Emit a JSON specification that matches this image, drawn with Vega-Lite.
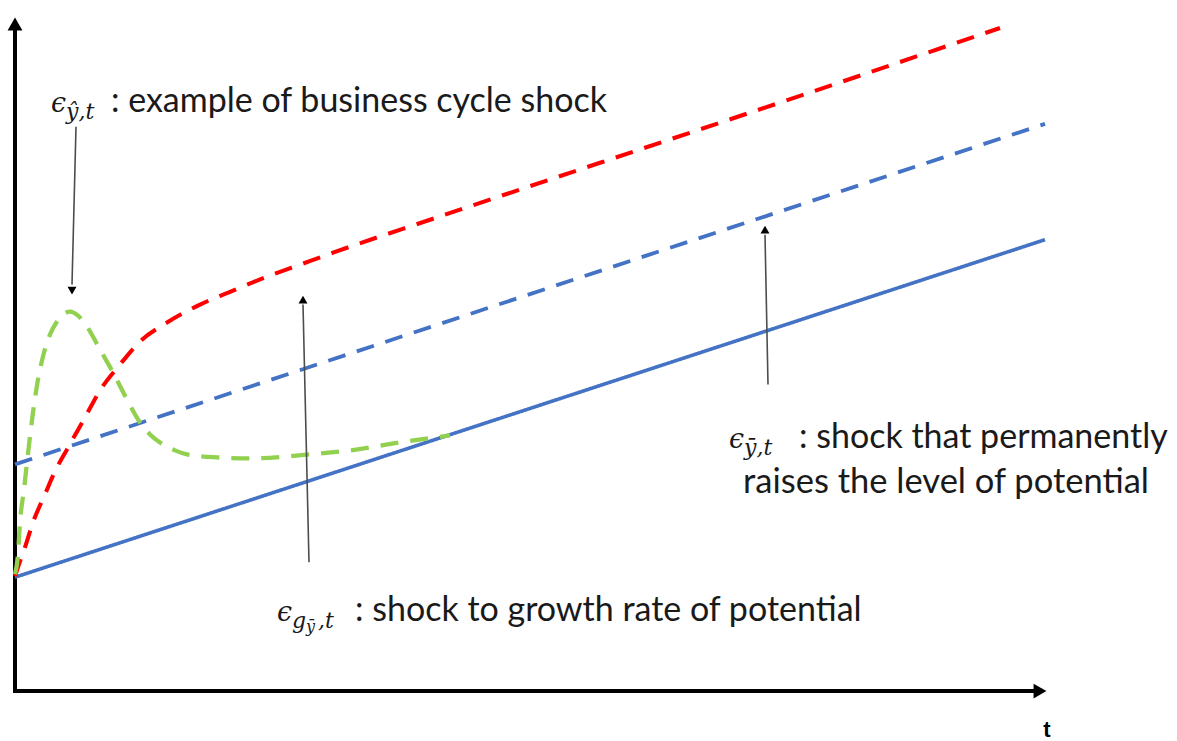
{
  "$schema": "https://vega.github.io/schema/vega-lite/v6.json",
  "width": 1177,
  "height": 741,
  "padding": 0,
  "autosize": {"type": "fit", "contains": "padding"},
  "background": "white",
  "config": {"view": {"stroke": null}},
  "layer": [
    {
      "data": {"values": [
        {"x": 15, "y": 49, "x2": 15, "y2": 712},
        {"x": 13, "y": 49, "x2": 1038, "y2": 49}
      ]},
      "mark": {"type": "rule", "color": "#000000", "strokeWidth": 4},
      "encoding": {
        "x": {"field": "x", "type": "quantitative", "scale": {"domain": [0, 1177], "nice": false, "zero": false}, "axis": null},
        "y": {"field": "y", "type": "quantitative", "scale": {"domain": [0, 741], "nice": false, "zero": false}, "axis": null},
        "x2": {"field": "x2"},
        "y2": {"field": "y2"}
      }
    },
    {
      "data": {"values": [
        {"x": 15, "y": 717, "dir": "up"},
        {"x": 1040, "y": 49, "dir": "right"}
      ]},
      "mark": {"type": "point", "filled": true, "color": "#000000", "opacity": 1, "size": 220},
      "encoding": {
        "x": {"field": "x", "type": "quantitative", "scale": {"domain": [0, 1177], "nice": false, "zero": false}, "axis": null},
        "y": {"field": "y", "type": "quantitative", "scale": {"domain": [0, 741], "nice": false, "zero": false}, "axis": null},
        "shape": {"field": "dir", "type": "nominal", "scale": {"domain": ["up", "right", "down"], "range": ["triangle-up", "triangle-right", "triangle-down"]}, "legend": null}
      }
    },
    {
      "data": {"values": [
        {"series": "potential", "o": 0, "x": 15, "y": 163},
        {"series": "potential", "o": 1, "x": 1045, "y": 501},
        {"series": "shifted", "o": 0, "x": 15, "y": 276},
        {"series": "shifted", "o": 1, "x": 1045, "y": 617},
        {"series": "growth", "o": 0, "x": 15, "y": 164},
        {"series": "growth", "o": 1, "x": 20, "y": 179},
        {"series": "growth", "o": 2, "x": 25, "y": 193},
        {"series": "growth", "o": 3, "x": 33, "y": 218},
        {"series": "growth", "o": 4, "x": 45, "y": 246},
        {"series": "growth", "o": 5, "x": 55, "y": 269},
        {"series": "growth", "o": 6, "x": 67, "y": 291},
        {"series": "growth", "o": 7, "x": 85, "y": 323},
        {"series": "growth", "o": 8, "x": 100, "y": 350},
        {"series": "growth", "o": 9, "x": 120, "y": 376},
        {"series": "growth", "o": 10, "x": 140, "y": 399},
        {"series": "growth", "o": 11, "x": 167, "y": 418},
        {"series": "growth", "o": 12, "x": 200, "y": 436},
        {"series": "growth", "o": 13, "x": 233, "y": 450},
        {"series": "growth", "o": 14, "x": 267, "y": 464},
        {"series": "growth", "o": 15, "x": 300, "y": 476},
        {"series": "growth", "o": 16, "x": 333, "y": 488},
        {"series": "growth", "o": 17, "x": 433, "y": 522},
        {"series": "growth", "o": 18, "x": 600, "y": 578},
        {"series": "growth", "o": 19, "x": 800, "y": 645},
        {"series": "growth", "o": 20, "x": 1000, "y": 713},
        {"series": "cycle", "o": 0, "x": 15, "y": 166},
        {"series": "cycle", "o": 1, "x": 18, "y": 186},
        {"series": "cycle", "o": 2, "x": 20, "y": 218},
        {"series": "cycle", "o": 3, "x": 24, "y": 251},
        {"series": "cycle", "o": 4, "x": 27, "y": 278},
        {"series": "cycle", "o": 5, "x": 33, "y": 328},
        {"series": "cycle", "o": 6, "x": 38, "y": 361},
        {"series": "cycle", "o": 7, "x": 43, "y": 384},
        {"series": "cycle", "o": 8, "x": 50, "y": 406},
        {"series": "cycle", "o": 9, "x": 57, "y": 419},
        {"series": "cycle", "o": 10, "x": 63, "y": 426},
        {"series": "cycle", "o": 11, "x": 70, "y": 429},
        {"series": "cycle", "o": 12, "x": 78, "y": 425},
        {"series": "cycle", "o": 13, "x": 87, "y": 414},
        {"series": "cycle", "o": 14, "x": 100, "y": 391},
        {"series": "cycle", "o": 15, "x": 113, "y": 368},
        {"series": "cycle", "o": 16, "x": 127, "y": 341},
        {"series": "cycle", "o": 17, "x": 140, "y": 318},
        {"series": "cycle", "o": 18, "x": 150, "y": 306},
        {"series": "cycle", "o": 19, "x": 160, "y": 298},
        {"series": "cycle", "o": 20, "x": 175, "y": 290},
        {"series": "cycle", "o": 21, "x": 187, "y": 286},
        {"series": "cycle", "o": 22, "x": 217, "y": 283},
        {"series": "cycle", "o": 23, "x": 250, "y": 282},
        {"series": "cycle", "o": 24, "x": 310, "y": 286},
        {"series": "cycle", "o": 25, "x": 350, "y": 290},
        {"series": "cycle", "o": 26, "x": 400, "y": 298},
        {"series": "cycle", "o": 27, "x": 450, "y": 305}
      ]},
      "mark": {"type": "line", "interpolate": "monotone", "strokeCap": "butt"},
      "encoding": {
        "x": {"field": "x", "type": "quantitative", "scale": {"domain": [0, 1177], "nice": false, "zero": false}, "axis": null},
        "y": {"field": "y", "type": "quantitative", "scale": {"domain": [0, 741], "nice": false, "zero": false}, "axis": null},
        "order": {"field": "o", "type": "quantitative"},
        "detail": {"field": "series", "type": "nominal"},
        "color": {"field": "series", "type": "nominal", "scale": {"domain": ["potential", "shifted", "growth", "cycle"], "range": ["#4472C4", "#4472C4", "#FF0000", "#92D050"]}, "legend": null},
        "strokeWidth": {"field": "series", "type": "nominal", "scale": {"domain": ["potential", "shifted", "growth", "cycle"], "range": [3.6, 4.3, 4.3, 4.3]}, "legend": null},
        "strokeDash": {"field": "series", "type": "nominal", "scale": {"domain": ["potential", "shifted", "growth", "cycle"], "range": [[1, 0], [18, 12], [18, 12], [18, 12]]}, "legend": null}
      }
    },
    {
      "data": {"values": [
        {"x": 76, "y": 614, "x2": 72, "y2": 456},
        {"x": 309, "y": 178, "x2": 303, "y2": 436},
        {"x": 768, "y": 356, "x2": 765, "y2": 506}
      ]},
      "mark": {"type": "rule", "color": "#4d4d4d", "strokeWidth": 1.6},
      "encoding": {
        "x": {"field": "x", "type": "quantitative", "scale": {"domain": [0, 1177], "nice": false, "zero": false}, "axis": null},
        "y": {"field": "y", "type": "quantitative", "scale": {"domain": [0, 741], "nice": false, "zero": false}, "axis": null},
        "x2": {"field": "x2"},
        "y2": {"field": "y2"}
      }
    },
    {
      "data": {"values": [
        {"x": 72, "y": 450, "dir": "down"},
        {"x": 303, "y": 441, "dir": "up"},
        {"x": 765, "y": 511, "dir": "up"}
      ]},
      "mark": {"type": "point", "filled": true, "color": "#000000", "opacity": 1, "size": 80},
      "encoding": {
        "x": {"field": "x", "type": "quantitative", "scale": {"domain": [0, 1177], "nice": false, "zero": false}, "axis": null},
        "y": {"field": "y", "type": "quantitative", "scale": {"domain": [0, 741], "nice": false, "zero": false}, "axis": null},
        "shape": {"field": "dir", "type": "nominal", "scale": {"domain": ["up", "right", "down"], "range": ["triangle-up", "triangle-right", "triangle-down"]}, "legend": null}
      }
    },
    {
      "data": {"values": [
        {"x": 111, "y": 629, "text": ": example of business cycle shock"},
        {"x": 799, "y": 292, "text": ": shock that permanently"},
        {"x": 355, "y": 119, "text": ": shock to growth rate of potential"}
      ]},
      "mark": {"type": "text", "align": "left", "baseline": "alphabetic", "font": "Lato", "fontSize": 34, "color": "#1a1a1a"},
      "encoding": {
        "x": {"field": "x", "type": "quantitative", "scale": {"domain": [0, 1177], "nice": false, "zero": false}, "axis": null},
        "y": {"field": "y", "type": "quantitative", "scale": {"domain": [0, 741], "nice": false, "zero": false}, "axis": null},
        "text": {"field": "text"}
      }
    },
    {
      "data": {"values": [
        {"x": 946, "y": 247, "text": "raises the level of potential"}
      ]},
      "mark": {"type": "text", "align": "center", "baseline": "alphabetic", "font": "Lato", "fontSize": 34.5, "color": "#1a1a1a"},
      "encoding": {
        "x": {"field": "x", "type": "quantitative", "scale": {"domain": [0, 1177], "nice": false, "zero": false}, "axis": null},
        "y": {"field": "y", "type": "quantitative", "scale": {"domain": [0, 741], "nice": false, "zero": false}, "axis": null},
        "text": {"field": "text"}
      }
    },
    {
      "data": {"values": [
        {"x": 51, "y": 629, "text": "ϵ"},
        {"x": 729, "y": 292, "text": "ϵ"},
        {"x": 277, "y": 119, "text": "ϵ"}
      ]},
      "mark": {"type": "text", "align": "left", "baseline": "alphabetic", "font": "DejaVu Serif", "fontStyle": "italic", "fontSize": 27, "color": "#1a1a1a"},
      "encoding": {
        "x": {"field": "x", "type": "quantitative", "scale": {"domain": [0, 1177], "nice": false, "zero": false}, "axis": null},
        "y": {"field": "y", "type": "quantitative", "scale": {"domain": [0, 741], "nice": false, "zero": false}, "axis": null},
        "text": {"field": "text"}
      }
    },
    {
      "data": {"values": [
        {"x": 66, "y": 622, "text": "ŷ,t"},
        {"x": 744, "y": 285, "text": "ȳ,t"},
        {"x": 292, "y": 112, "text": "g"},
        {"x": 318, "y": 112, "text": ",t"}
      ]},
      "mark": {"type": "text", "align": "left", "baseline": "alphabetic", "font": "DejaVu Serif", "fontStyle": "italic", "fontSize": 22, "color": "#1a1a1a"},
      "encoding": {
        "x": {"field": "x", "type": "quantitative", "scale": {"domain": [0, 1177], "nice": false, "zero": false}, "axis": null},
        "y": {"field": "y", "type": "quantitative", "scale": {"domain": [0, 741], "nice": false, "zero": false}, "axis": null},
        "text": {"field": "text"}
      }
    },
    {
      "data": {"values": [
        {"x": 306, "y": 108, "text": "ȳ"}
      ]},
      "mark": {"type": "text", "align": "left", "baseline": "alphabetic", "font": "DejaVu Serif", "fontStyle": "italic", "fontSize": 16, "color": "#1a1a1a"},
      "encoding": {
        "x": {"field": "x", "type": "quantitative", "scale": {"domain": [0, 1177], "nice": false, "zero": false}, "axis": null},
        "y": {"field": "y", "type": "quantitative", "scale": {"domain": [0, 741], "nice": false, "zero": false}, "axis": null},
        "text": {"field": "text"}
      }
    },
    {
      "data": {"values": [
        {"x": 1047, "y": 10, "text": "t"}
      ]},
      "mark": {"type": "text", "align": "center", "baseline": "middle", "font": "Liberation Sans", "fontWeight": "bold", "fontSize": 22, "color": "#000000"},
      "encoding": {
        "x": {"field": "x", "type": "quantitative", "scale": {"domain": [0, 1177], "nice": false, "zero": false}, "axis": null},
        "y": {"field": "y", "type": "quantitative", "scale": {"domain": [0, 741], "nice": false, "zero": false}, "axis": null},
        "text": {"field": "text"}
      }
    }
  ]
}
